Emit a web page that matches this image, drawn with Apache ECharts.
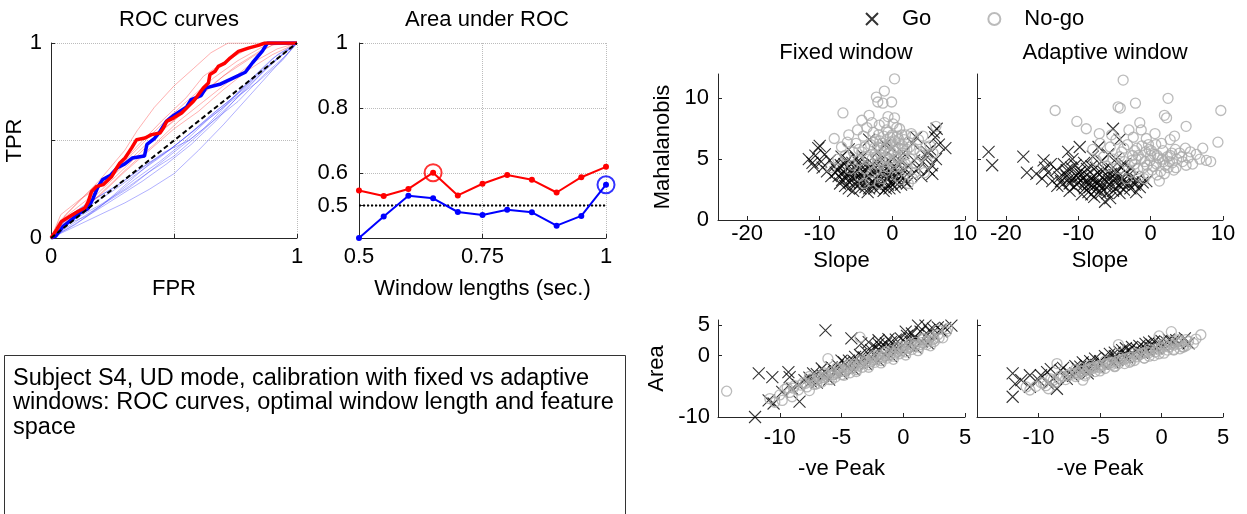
<!DOCTYPE html>
<html>
<head>
<meta charset="utf-8">
<script src="https://cdn.jsdelivr.net/npm/echarts@6/dist/echarts.min.js"></script>
<style>
  html, body { margin: 0; padding: 0; background: #fff; }
  #main { width: 1247px; height: 514px; }
</style>
</head>
<body>
<div id="main"></div>
<script>
// ROC curves / AUC vs window length / feature-space scatter (Go vs No-go)

const FONT = 'Liberation Sans, Arial, Helvetica, sans-serif';
const FS = 22;

// --- ROC curves: [FPR, TPR] ---
const rocRedThick = [[0,0],[0.003,0],[0.023,0.043],[0.043,0.085],[0.077,0.111],[0.111,0.137],[0.138,0.154],[0.152,0.188],[0.165,0.239],[0.186,0.265],[0.213,0.274],[0.247,0.316],[0.267,0.359],[0.28,0.385],[0.301,0.41],[0.328,0.462],[0.348,0.504],[0.382,0.513],[0.409,0.53],[0.443,0.538],[0.457,0.564],[0.47,0.598],[0.497,0.615],[0.531,0.641],[0.558,0.675],[0.579,0.701],[0.599,0.735],[0.619,0.769],[0.64,0.795],[0.646,0.838],[0.667,0.855],[0.68,0.88],[0.707,0.897],[0.728,0.923],[0.762,0.957],[0.802,0.974],[0.843,0.988],[0.87,1],[1,1]];
const rocBlueThick = [[0,0],[0.02,0.01],[0.05,0.06],[0.08,0.09],[0.12,0.13],[0.15,0.15],[0.17,0.2],[0.19,0.26],[0.21,0.3],[0.24,0.32],[0.27,0.36],[0.3,0.38],[0.33,0.41],[0.38,0.42],[0.39,0.48],[0.42,0.51],[0.44,0.54],[0.47,0.6],[0.5,0.63],[0.55,0.67],[0.57,0.71],[0.61,0.73],[0.63,0.77],[0.69,0.79],[0.74,0.82],[0.79,0.85],[0.82,0.9],[0.86,0.96],[0.88,1],[1,1]];
const rocRedThin = [
  [[0,0],[0.03,0.08],[0.1,0.17],[0.2,0.3],[0.3,0.45],[0.35,0.55],[0.42,0.67],[0.5,0.78],[0.58,0.87],[0.65,0.95],[0.72,1],[1,1]],
  [[0,0],[0.05,0.1],[0.15,0.2],[0.25,0.33],[0.35,0.47],[0.45,0.6],[0.55,0.72],[0.62,0.83],[0.7,0.9],[0.8,0.97],[0.88,1],[1,1]],
  [[0,0],[0.05,0.07],[0.15,0.18],[0.25,0.3],[0.35,0.42],[0.45,0.55],[0.55,0.66],[0.65,0.78],[0.75,0.88],[0.85,0.96],[0.92,1],[1,1]],
  [[0,0],[0.08,0.1],[0.2,0.22],[0.3,0.34],[0.4,0.45],[0.5,0.56],[0.6,0.65],[0.7,0.76],[0.8,0.86],[0.9,0.94],[1,1]],
  [[0,0],[0.04,0.12],[0.12,0.2],[0.22,0.28],[0.32,0.4],[0.42,0.52],[0.5,0.6],[0.6,0.72],[0.7,0.83],[0.82,0.93],[0.9,0.99],[1,1]],
  [[0,0],[0.06,0.12],[0.14,0.22],[0.24,0.32],[0.33,0.43],[0.4,0.52],[0.48,0.62],[0.56,0.71],[0.66,0.82],[0.76,0.91],[0.86,0.98],[0.9,1],[1,1]],
  [[0,0],[0.03,0.05],[0.12,0.13],[0.22,0.25],[0.32,0.37],[0.42,0.48],[0.52,0.6],[0.62,0.7],[0.72,0.8],[0.82,0.9],[0.92,0.97],[1,1]]
];
const rocBlueThin = [
  [[0,0],[0.1,0.06],[0.2,0.12],[0.3,0.18],[0.4,0.25],[0.5,0.33],[0.6,0.45],[0.7,0.58],[0.8,0.72],[0.9,0.86],[1,1]],
  [[0,0],[0.1,0.1],[0.2,0.17],[0.3,0.25],[0.4,0.34],[0.5,0.42],[0.6,0.53],[0.7,0.65],[0.8,0.77],[0.9,0.9],[1,1]],
  [[0,0],[0.05,0.08],[0.15,0.16],[0.25,0.24],[0.35,0.33],[0.45,0.42],[0.55,0.52],[0.65,0.63],[0.75,0.73],[0.85,0.85],[0.95,0.95],[1,1]],
  [[0,0],[0.08,0.12],[0.18,0.2],[0.28,0.28],[0.38,0.37],[0.48,0.45],[0.58,0.55],[0.68,0.66],[0.78,0.76],[0.88,0.88],[1,1]],
  [[0,0],[0.1,0.07],[0.2,0.16],[0.3,0.27],[0.4,0.38],[0.5,0.47],[0.6,0.57],[0.7,0.67],[0.8,0.8],[0.9,0.92],[1,1]],
  [[0,0],[0.06,0.1],[0.16,0.19],[0.26,0.26],[0.36,0.35],[0.46,0.44],[0.56,0.5],[0.66,0.6],[0.76,0.7],[0.86,0.83],[0.95,0.93],[1,1]],
  [[0,0],[0.12,0.1],[0.22,0.18],[0.32,0.26],[0.42,0.36],[0.52,0.46],[0.62,0.56],[0.72,0.69],[0.82,0.82],[0.92,0.94],[1,1]],
  [[0,0],[0.07,0.05],[0.17,0.13],[0.27,0.21],[0.37,0.29],[0.47,0.38],[0.57,0.48],[0.67,0.6],[0.77,0.74],[0.87,0.86],[0.96,0.96],[1,1]],
  [[0,0],[0.04,0.06],[0.14,0.11],[0.24,0.2],[0.34,0.3],[0.44,0.39],[0.54,0.49],[0.64,0.61],[0.74,0.71],[0.84,0.8],[0.94,0.91],[1,1]]
];
const chanceDiagonal = [[0,0],[1,1]];

// --- Area under ROC vs window length ---
const windowLengths = [0.5,0.55,0.6,0.65,0.7,0.75,0.8,0.85,0.9,0.95,1.0];
const aucRed  = [0.546,0.529,0.551,0.601,0.531,0.567,0.594,0.579,0.540,0.587,0.619];
const aucBlue = [0.400,0.466,0.530,0.522,0.480,0.471,0.487,0.479,0.438,0.468,0.564];
const optimalRed = 0.65;
const optimalBlue = 1.0;
const chanceAuc = 0.5;

// --- Feature space: [x, y] ---
const fixedTopGo = [[-11.5,5.0],[-11.0,4.7],[-10.6,5.3],[-10.2,5.9],[-10.0,6.1],[-9.8,4.8],[-9.6,4.3],[-9.3,5.4],[-10.8,4.4],[-8.6,4.9],[-8.0,4.4],
  [-7.6,4.1],[-7.4,3.6],[-7.1,4.5],[-6.9,3.3],[-6.7,4.0],[-6.5,2.8],[-6.3,3.7],[-6.1,4.3],[-5.9,3.1],[-5.7,3.9],[-5.5,4.7],[-5.3,3.4],[-5.1,2.9],[-4.9,4.1],[-4.7,3.6],[-4.5,3.0],[-4.3,4.4],[-4.1,3.3],[-3.9,3.9],[-3.7,2.7],[-3.5,3.5],[-3.3,4.2],[-3.1,3.0],[-2.9,3.7],[-2.7,4.6],[-2.5,2.6],[-2.3,3.4],[-2.1,4.0],[-1.9,3.1],[-1.7,2.7],[-1.5,3.8],[-1.3,4.5],[-1.1,3.2],[-0.9,2.6],[-0.7,3.9],[-0.5,3.4],[-0.3,4.8],[-0.1,3.0],[0.1,3.7],[0.3,2.7],[0.5,4.2],[0.7,3.3],[0.9,4.6],[1.2,3.6],[1.5,4.1],[1.8,3.2],[2.2,4.4],[2.6,3.7],[3.0,4.9],
  [-6.0,5.8],[-4.0,5.3],[-2.0,5.6],[0.0,5.9],[1.5,5.5],[2.8,6.3],[3.3,6.8],[-3.2,6.6],[-1.0,6.2],[-5.0,5.1],
  [4.2,4.8],[4.6,5.3],[5.0,4.1],[5.2,5.8],[5.5,3.8],[5.7,7.2],[5.9,6.8],[6.1,7.5],[6.4,6.2],[5.4,4.5],[4.8,5.6],[7.3,5.9],[6.0,5.0],[-7.8,3.9],[-6.6,4.6],[-5.6,3.5],[-4.4,3.8],[-3.6,4.6],[-2.6,3.1],[-1.6,4.2],[-0.6,2.9],[0.6,3.6],
  [-7.2,3.0],[-6.8,3.8],[-6.4,3.4],[-6.0,2.6],[-5.6,4.2],[-5.2,3.7],[-4.8,3.2],[-4.4,2.6],[-4.0,4.0],[-3.6,3.2],[-3.2,2.6],[-2.8,4.0],[-2.4,3.0],[-2.0,3.6],[-1.6,2.9],[-1.2,4.0],[-0.8,3.5],[-0.4,2.6],[0.0,4.3],[0.4,3.1],[0.8,3.9],[1.2,2.9],[1.6,3.5],[-6.2,4.9],[-4.6,4.7],[-3.0,4.4],[-1.4,5.0],[0.2,5.1],[-5.4,2.4],[-3.4,2.3],[-1.2,2.4],[-8.4,3.6],[-9.0,4.0],[-7.0,5.2],[-2.2,4.8],[1.0,4.9],[2.0,3.0],[3.6,4.2],[4.0,3.6],[-0.2,4.0]];
const fixedTopNogo = [[0.3,11.6],[-1.1,10.6],[-2.2,10.1],[-2.0,9.7],[-1.3,9.6],[-0.1,9.7],[-6.8,8.8],[-3.2,8.6],[-4.2,8.2],[-0.6,8.5],[0.3,8.4],[-2.8,8.0],[-1.1,8.0],[0.1,7.9],
  [-8.0,6.7],[-7.0,6.0],[-6.5,5.3],[-6.0,7.0],[-5.5,4.5],[-5.0,6.3],[-4.8,7.4],[-4.5,3.6],[-4.2,5.6],[-4.0,6.9],[-3.8,4.2],[-3.5,7.6],[-3.3,5.0],[-3.0,6.2],[-2.8,3.9],[-2.6,7.2],[-2.4,5.4],[-2.2,6.6],[-2.0,4.6],[-1.8,7.8],[-1.6,5.9],[-1.4,3.4],[-1.2,6.9],[-1.0,5.1],[-0.8,7.4],[-0.6,4.3],[-0.4,6.2],[-0.2,5.6],[0.0,7.0],[0.2,4.8],[0.4,6.5],[0.6,3.6],[0.8,5.9],[1.0,7.5],[1.2,4.4],[1.4,6.1],[1.6,5.3],[1.8,7.0],[2.0,4.1],[2.2,6.4],[2.5,5.0],[2.8,3.4],[3.0,5.8],[3.3,4.6],[3.6,6.6],[4.0,5.3],[4.4,3.9],[4.8,4.7],[5.2,6.1],[5.6,5.5],[6.0,7.7],
  [-0.5,5.5],[-1.5,4.9],[0.5,5.2],[-2.5,5.9],[1.5,5.8],[-3.5,5.2],[-0.3,6.8],[0.9,6.6],[-5.8,4.2],[-7.5,5.0],[-8.5,4.3],[-3.0,3.2],[2.2,3.0],[-1.8,3.0],[4.2,6.9],[-0.9,4.0],[0.3,4.3],[1.1,3.3],[-2.3,4.1],[3.1,3.9],[-4.6,4.9],[-1.7,6.5],[0.7,6.9],[2.6,7.1],[-3.9,3.0],
  [-2.8,5.0],[-2.2,5.2],[-1.6,5.4],[-1.0,5.8],[-0.4,5.0],[0.2,5.7],[0.8,5.0],[1.4,5.5],[2.0,5.8],[-2.6,6.4],[-2.0,6.0],[-1.4,6.3],[-0.8,6.0],[-0.2,6.4],[0.4,6.0],[1.0,6.3],[1.6,6.6],[2.4,6.0],[-1.9,7.0],[-0.6,7.2],[0.6,7.6],[1.3,7.0],[-3.8,6.0],[-4.6,5.8],[-5.4,5.6],[3.8,5.6],[4.6,6.0],[-1.2,4.4],[0.0,4.6],[1.8,4.6],[-6.2,6.4],[2.8,6.9]];
const adaptTopGo = [[-22.4,5.6],[-21.9,4.5],[-17.6,5.2],[-17.1,3.9],[-14.8,4.9],[-14.6,4.3],[-11.4,5.6],[-9.8,6.0],[-7.2,6.0],[-5.2,7.5],[-4.3,6.6],[-6.3,1.5],[-9.5,2.1],[-4.3,2.2],[-2.0,2.3],[-0.6,3.2],
  [-15.8,3.8],[-15.0,3.4],[-14.2,3.9],[-13.6,3.2],[-13.0,4.1],[-12.6,3.5],[-12.2,2.9],[-11.8,3.8],[-11.4,3.3],[-11.0,4.3],[-10.6,2.7],[-10.3,3.6],[-10.0,3.1],[-9.7,4.0],[-9.4,3.4],[-9.1,2.6],[-8.8,3.7],[-8.5,3.0],[-8.2,4.4],[-7.9,3.3],[-7.6,2.5],[-7.3,3.9],[-7.0,2.9],[-6.7,3.5],[-6.4,4.2],[-6.1,2.7],[-5.8,3.3],[-5.5,3.8],[-5.2,2.4],[-4.9,3.1],[-4.6,4.0],[-4.3,2.8],[-4.0,3.4],[-3.7,2.5],[-3.4,3.9],[-3.1,3.0],[-2.8,2.6],[-2.5,3.5],[-2.2,2.9],[-1.9,3.3],[-1.5,2.7],[-1.1,3.1],
  [-12.0,4.6],[-10.8,5.0],[-9.2,4.7],[-8.0,5.2],[-6.8,4.8],[-5.9,5.4],[-4.8,5.0],[-3.6,4.6],[-8.6,2.3],[-7.8,1.9],[-6.9,2.2],[-5.6,1.8],[-11.2,2.4],[-12.9,2.8],[-9.9,3.9],[-8.3,3.4],[-7.2,3.1],[-6.0,3.6],[-5.0,3.7],[-3.9,3.2],[-2.7,4.2],[-10.4,4.5],[-13.8,4.6],[-11.6,4.1],
  [-12.4,3.2],[-11.6,3.6],[-10.8,3.4],[-10.2,2.9],[-9.6,3.7],[-9.0,3.2],[-8.4,2.7],[-7.8,3.6],[-7.4,3.0],[-6.8,2.6],[-6.2,3.2],[-5.6,2.9],[-5.0,3.4],[-4.4,3.6],[-3.8,2.9],[-9.2,2.9],[-8.0,2.9],[-6.6,4.0],[-7.6,4.3],[-8.8,4.2],[-10.0,3.5],[-11.2,3.0],[-5.4,4.2],[-4.2,4.4],[-3.0,3.7],[-2.4,3.1],[-6.0,2.2],[-7.0,2.4],[-8.2,2.1],[-4.8,2.6]];
const adaptTopNogo = [[-3.8,11.5],[-13.2,9.0],[-4.5,9.3],[-4.2,9.2],[-2.1,9.6],[2.4,10.0],[1.9,8.6],[2.2,8.4],[9.7,9.0],[-10.2,8.1],[-8.9,7.5],[-7.1,7.1],[-1.5,8.0],[-1.3,7.4],[4.9,7.7],[9.3,6.4],[3.3,6.9],[-0.6,6.7],[7.2,5.9],[8.3,4.8],[7.7,4.9],[4.9,4.5],[3.5,4.3],[1.2,3.2],
  [-8.0,5.8],[-7.5,4.9],[-7.0,6.3],[-6.5,5.2],[-6.0,4.4],[-5.6,6.0],[-5.2,5.0],[-4.8,6.6],[-4.4,4.2],[-4.0,5.6],[-3.6,4.8],[-3.2,6.2],[-2.8,3.9],[-2.5,5.3],[-2.2,4.6],[-1.9,5.9],[-1.6,3.6],[-1.3,5.0],[-1.0,4.3],[-0.7,5.6],[-0.4,3.8],[-0.1,4.9],[0.2,4.1],[0.5,5.4],[0.8,4.6],[1.1,5.1],[1.4,4.0],[1.7,5.7],[2.0,4.5],[2.3,5.2],[2.6,4.8],[2.9,5.5],[3.2,4.1],[3.6,5.0],[4.0,5.5],[4.4,4.8],[5.2,5.1],[5.8,4.6],[6.3,5.4],[6.8,5.0],[-3.0,7.4],[-0.3,6.2],[1.5,6.3],[2.7,6.6],[-5.4,7.0],[-2.4,6.8],[0.6,7.1],[-1.8,4.2],[-0.9,3.4],[0.9,3.7],[-3.3,3.4],[0.0,5.3],[-2.0,5.0],[1.9,3.8],
  [-2.6,4.9],[-1.7,5.3],[-0.8,4.8],[0.1,5.7],[0.9,5.3],[1.8,4.8],[2.7,5.3],[3.4,5.8],[-2.2,5.7],[-1.2,6.1],[-0.2,5.8],[0.7,6.2],[1.6,5.0],[2.4,4.3],[3.0,4.7],[-3.7,5.9],[-4.3,5.2],[-0.5,4.5],[0.4,4.4],[4.3,5.2],[5.5,5.6],[4.8,5.9]];
const fixedBotGo = [[-6.3,4.1],[-12.0,-10.0],[-11.7,-2.9],[-10.6,-3.5],[-9.3,-2.7],[-9.2,-3.5],[-10.9,-7.3],[-10.5,-7.8],[-9.8,-5.9],[-9.0,-5.4],[-8.4,-7.5],[-4.2,2.8],[-3.4,2.0],[-2.8,2.2],[-2.0,2.5],[1.2,4.9],[1.8,4.9],[3.9,4.9],[3.1,3.9],[2.1,4.1],[0.7,3.6],[-7.3,-2.9],[-6.6,-2.1],
  [-8.0,-4.0],[-7.6,-3.6],[-7.0,-3.0],[-6.4,-2.6],[-5.8,-1.9],[-5.3,-1.6],[-4.8,-1.1],[-4.4,-0.8],[-3.9,-0.2],[-3.5,0.1],[-3.0,0.6],[-2.6,0.9],[-2.2,1.3],[-1.8,1.5],[-1.4,2.0],[-1.0,2.2],[-0.6,2.6],[-0.2,2.8],[0.3,3.2],[0.9,3.0],[1.4,3.9],[2.4,4.4],[2.8,4.6],[3.4,4.5],[-1.2,1.0],[-2.4,0.2],[-4.0,-0.9],[-5.6,-2.7],[-0.4,1.6],[0.6,2.2],
  [-7.0,-4.4],[-5.0,-2.9],[-3.0,-1.4],[-1.0,-0.1],[1.0,1.3],[-6.0,-3.9],[-4.0,-2.3],[-2.0,-0.8],[0.0,0.6],[2.0,2.0],
  [-6.5,-3.3],[-4.5,-1.9],[-2.5,-0.5],[-0.5,0.9],[1.5,2.3],[-5.5,-2.5],[-3.5,-1.2],[-1.5,0.2],[0.5,1.6],[2.5,3.2],[-8.5,-4.8],[-7.5,-4.2],[-3.2,-0.3],[-1.9,0.8],[-0.9,1.2],[0.2,2.1],[1.0,2.7],[2.0,3.4],[3.0,4.2],[-2.0,1.9],[-1.2,2.7],[0.2,3.9],[-5.0,-0.8]];
const fixedBotNogo = [[-10.0,-6.4],[-9.6,-5.5],[-9.2,-6.0],[-8.8,-4.9],[-8.5,-5.6],[-8.1,-4.4],[-7.8,-5.1],[-7.5,-3.8],[-7.2,-4.7],[-6.9,-3.4],[-6.6,-4.3],[-6.3,-3.0],[-6.0,-3.9],[-5.8,-2.6],[-5.5,-3.5],[-5.2,-2.2],[-5.0,-3.1],[-4.8,-2.5],[-4.5,-1.7],[-4.3,-2.8],[-4.0,-1.4],[-3.8,-2.3],[-3.5,-1.0],[-3.3,-1.9],[-3.0,-0.6],[-2.8,-1.5],[-2.5,-0.3],[-2.3,-1.1],[-2.0,0.1],[-1.8,-0.8],[-1.5,0.4],[-1.3,-0.4],[-1.0,0.8],[-0.8,-0.1],[-0.5,1.1],[-0.3,0.3],[0.0,1.5],[0.2,0.6],[0.5,1.8],[0.7,1.0],[1.0,2.2],[1.3,1.4],[1.6,2.6],[1.9,1.8],[2.2,3.0],[2.5,2.3],[2.8,3.4],[3.2,2.9],[3.5,3.9],
  [-7.0,-4.0],[-6.0,-3.2],[-5.0,-2.4],[-4.0,-1.7],[-3.0,-1.0],[-2.0,-0.3],[-1.0,0.4],[0.0,1.1],[1.0,1.8],[2.0,2.5],[-6.5,-3.6],[-5.5,-2.8],[-4.5,-2.1],[-3.5,-1.4],[-2.5,-0.7],[-1.5,0.0],[-0.5,0.7],[0.5,1.4],[1.5,2.1],[2.5,2.8],
  [-14.3,-5.8],[-6.1,-0.5],[-3.5,3.0],[-10.8,-7.0],[-9.8,-7.3],[-10.4,-7.6],[-9.0,-6.7],[-7.6,-5.7],[2.8,4.2],[3.6,4.4],
  [-9.4,-5.2],[-8.9,-5.3],[-8.3,-4.8],[-7.9,-4.5],[-7.3,-4.1],[-6.8,-3.7],[-6.2,-3.4],[-5.7,-3.1],[-5.1,-2.6],[-4.6,-2.4],[-4.1,-2.0],[-3.6,-1.7],[-3.1,-1.2],[-2.6,-1.0],[-2.1,-0.6],[-1.6,-0.3],[-1.1,0.1],[-0.6,0.4],[-0.1,0.8],[0.4,1.2],[0.9,1.5],[1.4,1.8],[1.9,2.2],[2.4,2.6],[2.9,2.9],[-7.6,-3.4],[-6.4,-2.8],[-5.4,-2.0],[-4.4,-1.4],[-3.4,-0.7],[-2.4,0.0],[-1.4,0.7],[-0.4,1.4],[0.6,2.0],[1.6,2.8],[-7.0,-4.6],[-5.8,-3.9],[-4.8,-3.2],[-3.8,-2.6],[-2.8,-1.9],[-1.8,-1.2],[-0.8,-0.6],[0.2,0.1],[1.2,0.8],[2.2,1.6]];
const adaptBotGo = [[-12.1,-2.9],[-11.9,-4.6],[-12.1,-6.7],[-10.7,-3.2],[-10.7,-5.1],[-9.3,-2.7],[-9.2,-4.6],[-8.5,-5.4],[-7.7,-3.8],[-7.0,-2.9],[2.2,2.0],[1.9,2.8],[1.4,2.0],
  [-11.4,-4.0],[-10.0,-4.0],[-9.8,-3.2],[-8.8,-3.7],[-8.2,-2.4],[-7.5,-2.8],[-6.8,-2.2],[-6.2,-1.5],[-5.6,-1.3],[-5.0,-0.9],[-4.4,-0.4],[-3.8,-0.1],[-3.4,0.6],[-3.0,0.4],[-2.6,0.9],[-2.0,1.1],[-1.4,1.3],[-0.8,1.8],[-0.2,1.9],[0.4,2.2],[0.9,2.3],[-4.0,-1.0],[-2.8,-0.3],[-1.6,0.5],[-0.4,1.2],[-6.0,-2.4],[-7.2,-3.3],[-5.2,-1.8],[-3.6,-0.7],[-2.3,0.2],[-1.1,0.8],[0.2,1.5],
  [-8.0,-2.0],[-7.0,-1.7],[-6.4,-1.1],[-5.4,-0.5],[-4.6,-0.1],[-4.2,0.3],[-3.2,0.9],[-2.4,1.4],[-1.8,1.6],[-1.0,2.1],[-0.6,2.3],[0.6,2.6],[1.2,2.5],[-9.0,-2.2],[-6.6,-1.8],[-5.8,-0.9],[-3.8,0.5],[-2.9,1.2],[-1.3,1.9],[0.0,2.4],[-4.8,-1.3],[-2.0,0.6],[-0.9,1.3],[-3.0,-0.2],[-6.0,-2.9]];
const adaptBotNogo = [[-10.2,-5.0],[-9.8,-4.4],[-9.4,-4.9],[-9.0,-3.8],[-8.6,-4.3],[-8.2,-3.3],[-7.8,-3.9],[-7.4,-2.9],[-7.0,-3.4],[-6.6,-2.5],[-6.2,-3.0],[-5.8,-2.0],[-5.4,-2.6],[-5.0,-1.6],[-4.6,-2.1],[-4.2,-1.2],[-3.8,-1.7],[-3.4,-0.8],[-3.0,-1.3],[-2.6,-0.3],[-2.2,-0.8],[-1.8,0.1],[-1.4,-0.4],[-1.0,0.5],[-0.6,0.0],[-0.2,0.9],[0.2,0.4],[0.6,1.4],[1.0,0.9],[1.4,1.9],[1.8,1.4],[2.2,2.3],[2.6,2.0],
  [-8.0,-3.4],[-7.0,-2.8],[-6.0,-2.2],[-5.0,-2.0],[-4.0,-1.4],[-3.0,-0.6],[-2.0,-0.2],[-1.0,-0.1],[0.0,1.2],[1.0,1.7],[-6.5,-2.0],[-5.5,-1.9],[-4.5,-1.4],[-3.5,-1.3],[-2.5,-0.9],[-1.5,0.4],[-0.5,0.6],[0.5,0.9],[1.5,1.1],[2.0,1.6],
  [3.2,3.4],[0.8,3.9],[-0.2,3.2],[-3.5,1.8],[-8.5,-1.3],[-10.7,-5.6],[-9.2,-5.4],[-6.4,-4.0],[1.7,1.4],[2.8,2.7],[-11.0,-5.1],
  [-9.6,-4.5],[-8.8,-4.0],[-8.4,-3.7],[-7.6,-3.2],[-7.2,-3.0],[-6.8,-2.8],[-6.4,-2.5],[-6.0,-2.4],[-5.6,-2.1],[-5.2,-1.8],[-4.8,-1.6],[-4.4,-1.3],[-4.0,-1.1],[-3.6,-0.9],[-3.2,-0.6],[-2.8,-0.4],[-2.4,-0.2],[-2.0,0.2],[-1.6,0.4],[-1.2,0.6],[-0.8,0.9],[-0.4,1.1],[0.0,1.4],[0.4,1.6],[0.8,1.9],[1.2,2.1],[1.6,2.3],[2.0,2.6],[-7.0,-2.3],[-5.8,-1.6],[-4.6,-0.9],[-3.4,-0.3],[-2.2,0.4],[-1.0,1.1],[0.2,1.9],[1.4,2.6],[-6.2,-3.3],[-5.0,-2.5],[-3.8,-1.8],[-2.6,-1.1],[-1.4,-0.4],[-0.2,0.3],[1.0,1.0]];

const captionLines = [
  'Subject S4, UD mode, calibration with fixed vs adaptive',
  'windows: ROC curves, optimal window length and feature',
  'space'
];

const X_SYMBOL = 'path://M0,0L10,10M10,0L0,10';
const AXIS_COLOR = '#262626';
const GRID_LINE = { show: true, lineStyle: { type: 'dotted', color: '#bcbcbc', width: 1 } };

function axis(extra) {
  return Object.assign({
    type: 'value',
    axisLine: { show: true, onZero: false, lineStyle: { color: AXIS_COLOR, width: 1 } },
    splitLine: { show: false },
    nameLocation: 'middle',
    nameTextStyle: { fontSize: FS, color: '#000', fontFamily: FONT },
  }, extra, {
    axisLabel: Object.assign({ fontSize: FS, color: '#000', fontFamily: FONT }, extra.axisLabel || {}),
    axisTick: Object.assign({ show: true, inside: true, length: 4, lineStyle: { color: AXIS_COLOR } }, extra.axisTick || {}),
  });
}

function lineSeries(data, color, width, extra) {
  return Object.assign({
    type: 'line', xAxisIndex: 0, yAxisIndex: 0, data, symbol: 'none', silent: true,
    lineStyle: { color, width },
  }, extra || {});
}

function scatterPair(idx, goData, nogoData) {
  return [
    {
      name: 'Go', type: 'scatter', xAxisIndex: idx, yAxisIndex: idx, data: goData, clip: false, silent: true,
      symbol: X_SYMBOL, symbolSize: 12,
      itemStyle: { color: 'transparent', borderColor: '#000', borderWidth: 1.1 },
    },
    {
      name: 'No-go', type: 'scatter', xAxisIndex: idx, yAxisIndex: idx, data: nogoData, clip: false, silent: true,
      symbol: 'circle', symbolSize: 10,
      itemStyle: { color: 'transparent', borderColor: '#aaaaaa', borderWidth: 1.3 },
    },
  ];
}

const series = [];
rocBlueThin.forEach(c => series.push(lineSeries(c, 'rgba(60,60,255,0.4)', 1)));
rocRedThin.forEach(c => series.push(lineSeries(c, 'rgba(255,60,60,0.4)', 1)));
series.push(lineSeries(rocBlueThick, '#0000ff', 3.5));
series.push(lineSeries(rocRedThick, '#ff0000', 3.5));
series.push(lineSeries(chanceDiagonal, '#000', 2, { lineStyle: { color: '#000', width: 2, type: [5, 3] } }));

// AUC panel
series.push({
  type: 'line', xAxisIndex: 1, yAxisIndex: 1, silent: true, symbol: 'none',
  data: [[windowLengths[0], chanceAuc], [windowLengths[windowLengths.length - 1], chanceAuc]],
  lineStyle: { color: '#000', width: 2, type: 'dotted' },
});
series.push({
  type: 'line', xAxisIndex: 1, yAxisIndex: 1, silent: true,
  data: windowLengths.map((w, i) => [w, aucRed[i]]),
  symbol: 'circle', symbolSize: 6, itemStyle: { color: '#ff0000' }, lineStyle: { color: '#ff0000', width: 2 },
});
series.push({
  type: 'line', xAxisIndex: 1, yAxisIndex: 1, silent: true,
  data: windowLengths.map((w, i) => [w, aucBlue[i]]),
  symbol: 'circle', symbolSize: 6, itemStyle: { color: '#0000ff' }, lineStyle: { color: '#0000ff', width: 2 },
});
series.push({
  type: 'scatter', xAxisIndex: 1, yAxisIndex: 1, silent: true, clip: false,
  data: [[optimalRed, aucRed[windowLengths.indexOf(optimalRed)]]],
  symbol: 'circle', symbolSize: 17, itemStyle: { color: 'transparent', borderColor: '#ff0000', borderWidth: 2 },
});
series.push({
  type: 'scatter', xAxisIndex: 1, yAxisIndex: 1, silent: true, clip: false,
  data: [[optimalBlue, aucBlue[windowLengths.indexOf(optimalBlue)]]],
  symbol: 'circle', symbolSize: 17, itemStyle: { color: 'transparent', borderColor: '#0000ff', borderWidth: 2 },
});

series.push(...scatterPair(2, fixedTopGo, fixedTopNogo));
series.push(...scatterPair(3, adaptTopGo, adaptTopNogo));
series.push(...scatterPair(4, fixedBotGo, fixedBotNogo));
series.push(...scatterPair(5, adaptBotGo, adaptBotNogo));

const titleStyle = { fontSize: FS, fontWeight: 'normal', color: '#000', fontFamily: FONT };

const option = {
  animation: false,
  backgroundColor: '#fff',
  textStyle: { fontFamily: FONT },
  title: [
    { text: 'ROC curves', left: 174, top: 4, textAlign: 'center', textStyle: titleStyle },
    { text: 'Area under ROC', left: 482, top: 4, textAlign: 'center', textStyle: titleStyle },
    { text: 'Fixed window', left: 841, top: 37, textAlign: 'center', textStyle: titleStyle },
    { text: 'Adaptive window', left: 1100, top: 37, textAlign: 'center', textStyle: titleStyle },
  ],
  legend: {
    data: ['Go', 'No-go'], left: 860, top: 3, itemWidth: 12, itemHeight: 12, itemGap: 56,
    textStyle: { fontSize: FS, color: '#000', fontFamily: FONT, padding: [0, 0, 0, 19] },
    selectedMode: false,
  },
  grid: [
    { left: 51, top: 43, width: 246, height: 195 },
    { left: 359, top: 43, width: 247, height: 195 },
    { left: 718, top: 74, width: 247, height: 146 },
    { left: 977, top: 74, width: 246, height: 146 },
    { left: 718, top: 320, width: 247, height: 97 },
    { left: 977, top: 320, width: 246, height: 97 },
  ],
  xAxis: [
    axis({ gridIndex: 0, min: 0, max: 1, interval: 0.5, name: 'FPR', nameGap: 40,
      axisLabel: { customValues: [0, 1], margin: 8 }, splitLine: GRID_LINE }),
    axis({ gridIndex: 1, min: 0.5, max: 1, interval: 0.25, name: 'Window lengths (sec.)', nameGap: 40,
      axisLabel: { margin: 8 }, splitLine: GRID_LINE }),
    axis({ gridIndex: 2, min: -24, max: 10, name: 'Slope', nameGap: 30,
      axisLabel: { customValues: [-20, -10, 0, 10], margin: 3 }, axisTick: { customValues: [-20, -10, 0, 10] } }),
    axis({ gridIndex: 3, min: -24, max: 10, name: 'Slope', nameGap: 30,
      axisLabel: { customValues: [-20, -10, 0, 10], margin: 3 }, axisTick: { customValues: [-20, -10, 0, 10] } }),
    axis({ gridIndex: 4, min: -15, max: 5, name: '-ve Peak', nameGap: 41,
      axisLabel: { customValues: [-10, -5, 0, 5], margin: 10 }, axisTick: { customValues: [-10, -5, 0, 5] } }),
    axis({ gridIndex: 5, min: -15, max: 5, name: '-ve Peak', nameGap: 41,
      axisLabel: { customValues: [-10, -5, 0, 5], margin: 10 }, axisTick: { customValues: [-10, -5, 0, 5] } }),
  ],
  yAxis: [
    axis({ gridIndex: 0, min: 0, max: 1, interval: 0.5, name: 'TPR', nameGap: 14,
      axisLabel: { customValues: [0, 1], margin: 9 }, splitLine: GRID_LINE }),
    axis({ gridIndex: 1, min: 0.4, max: 1, interval: 0.2,
      axisLabel: { customValues: [0.5, 0.6, 0.8, 1], margin: 11 }, axisTick: { customValues: [0.5, 0.6, 0.8, 1] },
      splitLine: GRID_LINE }),
    axis({ gridIndex: 2, min: 0, max: 12, name: 'Mahalanobis', nameGap: 44,
      axisLabel: { customValues: [0, 5, 10], margin: 9 }, axisTick: { customValues: [0, 5, 10] } }),
    axis({ gridIndex: 3, min: 0, max: 12,
      axisLabel: { show: false }, axisTick: { customValues: [0, 5, 10] } }),
    axis({ gridIndex: 4, min: -10, max: 5.8, name: 'Area', nameGap: 50,
      axisLabel: { customValues: [-10, 0, 5], margin: 8 }, axisTick: { customValues: [-10, 0, 5] } }),
    axis({ gridIndex: 5, min: -10, max: 5.8,
      axisLabel: { show: false }, axisTick: { customValues: [-10, 0, 5] } }),
  ],
  graphic: [
    {
      type: 'rect', left: 4, top: 355, silent: true,
      shape: { width: 621, height: 170 },
      style: { fill: '#fff', stroke: '#333', lineWidth: 1 },
    },
    {
      type: 'text', left: 13, top: 366, silent: true,
      style: { text: captionLines.join('\n'), font: '23.5px ' + FONT, fill: '#000', lineHeight: 24.5 },
    },
  ],
  series,
};

const chart = echarts.init(document.getElementById('main'), null, { renderer: 'canvas' });
chart.setOption(option);
</script>
</body>
</html>
